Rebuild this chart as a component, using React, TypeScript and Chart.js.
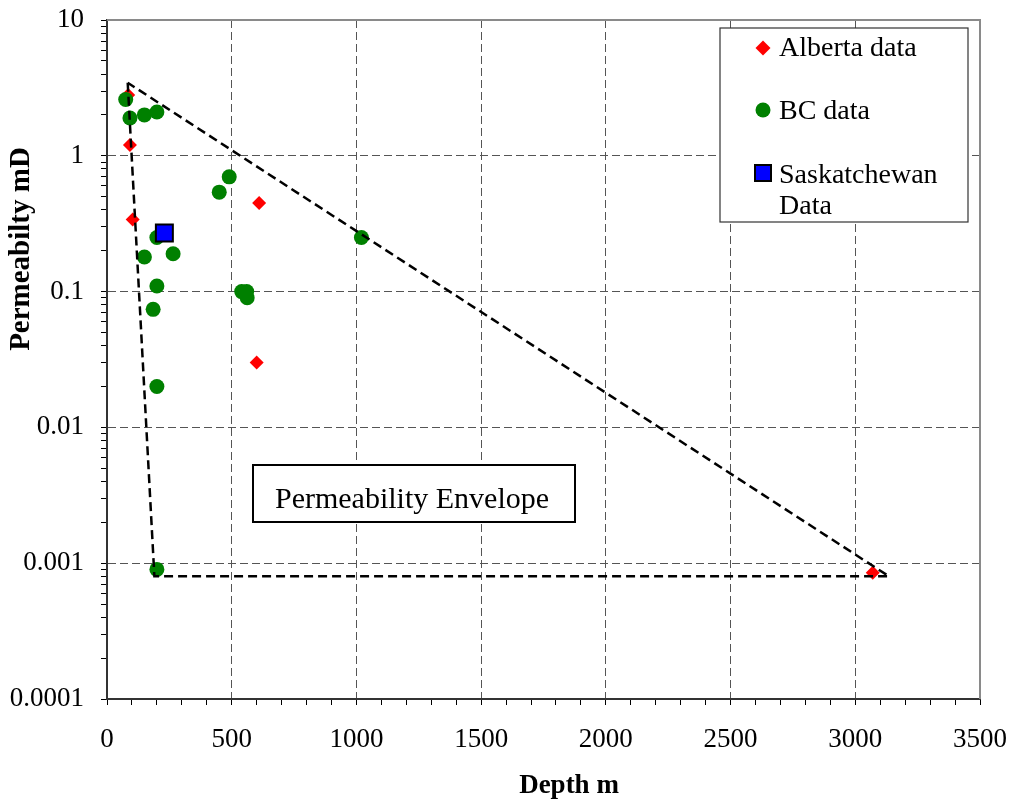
import React, { useEffect, useRef } from "react";
import { Chart, registerables } from "chart.js";

Chart.register(...registerables);

// ---- Data ----
const albertaDepth = [85, 92, 103, 610, 600, 3070];
const albertaPerm = [2.8, 1.2, 0.34, 0.45, 0.03, 0.00085];

const bcDepth = [75, 92, 150, 200, 490, 450, 200, 150, 265, 200, 185, 200, 540, 560, 562, 1020, 200];
const bcPerm = [2.6, 1.9, 2.0, 2.1, 0.7, 0.54, 0.25, 0.18, 0.19, 0.11, 0.074, 0.02, 0.1, 0.1, 0.09, 0.25, 0.0009];

const saskDepth = [230];
const saskPerm = [0.27];

const envelopeDepth = [83, 190, 3135, 83];
const envelopePerm = [3.45, 0.0008, 0.0008, 3.45];

const xTickLabels = ["0", "500", "1000", "1500", "2000", "2500", "3000", "3500"];
const xTickValues = [0, 500, 1000, 1500, 2000, 2500, 3000, 3500];
const yTickValues = [0.0001, 0.001, 0.01, 0.1, 1, 10];
const yTickLabels = ["0.0001", "0.001", "0.01", "0.1", "1", "10"];

const legendLabels = ["Alberta data", "BC data", "Saskatchewan", "Data"];
const envelopeLabel = "Permeability Envelope";
const xTitle = "Depth m";
const yTitle = "Permeabilty mD";

const SERIF = "'Liberation Serif', 'Times New Roman', serif";

const toPts = (xs: number[], ys: number[]) => xs.map((x, i) => ({ x, y: ys[i] }));

const isMajorLog = (v: number) => yTickValues.some((t) => Math.abs(t - v) / t < 1e-6);

const overlayPlugin = {
  id: "overlay",
  afterDraw(chart: any) {
    const { ctx, chartArea } = chart;
    const { left, right, top, bottom } = chartArea;
    ctx.save();
    // top & right frame
    ctx.strokeStyle = "#8a8a8a";
    ctx.lineWidth = 2;
    ctx.beginPath();
    ctx.moveTo(left, top);
    ctx.lineTo(right, top);
    ctx.lineTo(right, bottom);
    ctx.stroke();

    // Envelope label box
    ctx.fillStyle = "#ffffff";
    ctx.fillRect(253, 465, 322, 57);
    ctx.strokeStyle = "#000";
    ctx.lineWidth = 2;
    ctx.strokeRect(253, 465, 322, 57);
    ctx.fillStyle = "#000";
    ctx.font = `30px ${SERIF}`;
    ctx.textAlign = "center";
    ctx.textBaseline = "alphabetic";
    ctx.fillText(envelopeLabel, 412, 508);

    // Legend
    ctx.fillStyle = "#ffffff";
    ctx.fillRect(720, 28, 248, 194);
    ctx.strokeStyle = "#333";
    ctx.lineWidth = 1.2;
    ctx.strokeRect(720, 28, 248, 194);
    const mx = 763;
    // diamond
    ctx.fillStyle = "#ff0000";
    ctx.beginPath();
    ctx.moveTo(mx, 48 - 7.5);
    ctx.lineTo(mx + 7.5, 48);
    ctx.lineTo(mx, 48 + 7.5);
    ctx.lineTo(mx - 7.5, 48);
    ctx.closePath();
    ctx.fill();
    // circle
    ctx.fillStyle = "#008000";
    ctx.beginPath();
    ctx.arc(mx, 110, 7.5, 0, Math.PI * 2);
    ctx.fill();
    // square
    ctx.fillStyle = "#0000ff";
    ctx.fillRect(mx - 8, 165, 16, 16);
    ctx.strokeStyle = "#000";
    ctx.lineWidth = 2;
    ctx.strokeRect(mx - 8, 165, 16, 16);

    ctx.fillStyle = "#000";
    ctx.font = `28px ${SERIF}`;
    ctx.textAlign = "left";
    ctx.textBaseline = "alphabetic";
    ctx.fillText(legendLabels[0], 779, 56);
    ctx.fillText(legendLabels[1], 779, 119);
    ctx.fillText(legendLabels[2], 779, 183);
    ctx.fillText(legendLabels[3], 779, 214);

    // Axis titles
    ctx.font = `bold 27px ${SERIF}`;
    ctx.textAlign = "center";
    ctx.fillText(xTitle, 569, 793);
    ctx.save();
    ctx.translate(29, 249);
    ctx.rotate(-Math.PI / 2);
    ctx.font = `bold 29px ${SERIF}`;
    ctx.fillText(yTitle, 0, 0);
    ctx.restore();

    ctx.restore();
  },
};

export default function App() {
  const canvasRef = useRef<HTMLCanvasElement | null>(null);

  useEffect(() => {
    if (!canvasRef.current) return;
    const chart = new Chart(canvasRef.current, {
      type: "scatter",
      data: {
        datasets: [
          {
            label: "Envelope",
            data: toPts(envelopeDepth, envelopePerm),
            showLine: true,
            borderColor: "#000",
            borderWidth: 2.5,
            borderDash: [9, 5],
            pointRadius: 0,
            fill: false,
            order: 0,
          } as any,
          {
            label: "Saskatchewan Data",
            data: toPts(saskDepth, saskPerm),
            pointStyle: "rect",
            pointRadius: 12,
            backgroundColor: "#0000ff",
            borderColor: "#000",
            borderWidth: 2,
            order: 1,
          },
          {
            label: "BC data",
            data: toPts(bcDepth, bcPerm),
            pointStyle: "circle",
            pointRadius: 7.5,
            backgroundColor: "#008000",
            borderWidth: 0,
            order: 2,
          },
          {
            label: "Alberta data",
            data: toPts(albertaDepth, albertaPerm),
            pointStyle: "rectRot",
            pointRadius: 7,
            backgroundColor: "#ff0000",
            borderWidth: 0,
            order: 3,
          },
        ],
      },
      options: {
        animation: false,
        responsive: false,
        events: [],
        layout: { padding: { top: 20, right: 34, left: 0, bottom: 0 } },
        plugins: { legend: { display: false }, tooltip: { enabled: false } },
        scales: {
          x: {
            type: "linear",
            min: 0,
            max: 3500,
            afterBuildTicks: (scale: any) => {
              const t = [];
              for (let v = 0; v <= 3500; v += 100) t.push({ value: v });
              scale.ticks = t;
            },
            afterFit: (scale: any) => {
              scale.height = 102;
              scale.paddingLeft = 0;
              scale.paddingRight = 0;
            },
            ticks: {
              autoSkip: false,
              maxRotation: 0,
              padding: 19,
              color: "#000",
              font: { family: SERIF, size: 27 },
              callback: (value: any) => {
                const i = xTickValues.indexOf(Number(value));
                return i >= 0 ? xTickLabels[i] : "";
              },
            },
            grid: {
              color: (ctx: any) => {
                const v = ctx.tick?.value;
                return v % 500 === 0 && v !== 0 && v !== 3500 ? "#555" : "rgba(0,0,0,0)";
              },
              lineWidth: 1,
              tickColor: "#000",
              tickLength: 6,
            },
            border: { display: true, color: "#333", width: 2, dash: [8, 4] },
          },
          y: {
            type: "logarithmic",
            min: 0.0001,
            max: 10,
            afterBuildTicks: (scale: any) => {
              const t = [];
              for (let d = 0; d < yTickValues.length - 1; d++) {
                for (let m = 1; m <= 9; m++) t.push({ value: yTickValues[d] * m });
              }
              t.push({ value: yTickValues[yTickValues.length - 1] });
              scale.ticks = t;
            },
            afterFit: (scale: any) => {
              scale.width = 107;
              scale.paddingTop = 0;
              scale.paddingBottom = 0;
            },
            ticks: {
              autoSkip: false,
              padding: 17,
              color: "#000",
              font: { family: SERIF, size: 27 },
              callback: (value: any) => {
                const v = Number(value);
                const i = yTickValues.findIndex((t) => Math.abs(t - v) / t < 1e-6);
                return i >= 0 ? yTickLabels[i] : "";
              },
            },
            grid: {
              color: (ctx: any) => {
                const v = ctx.tick?.value;
                return v !== undefined && isMajorLog(v) && Math.abs(v - 10) > 1e-9 && Math.abs(v - 0.0001) > 1e-12
                  ? "#555"
                  : "rgba(0,0,0,0)";
              },
              lineWidth: 1,
              tickColor: "#000",
              tickLength: 6,
            },
            border: { display: true, color: "#333", width: 2, dash: [8, 4] },
          },
        },
      },
      plugins: [overlayPlugin],
    });
    return () => chart.destroy();
  }, []);

  return (
    <div style={{ position: "absolute", left: 0, top: 0, width: 1014, height: 801, background: "#fff" }}>
      <canvas ref={canvasRef} width={1014} height={801} style={{ display: "block" }} />
    </div>
  );
}
